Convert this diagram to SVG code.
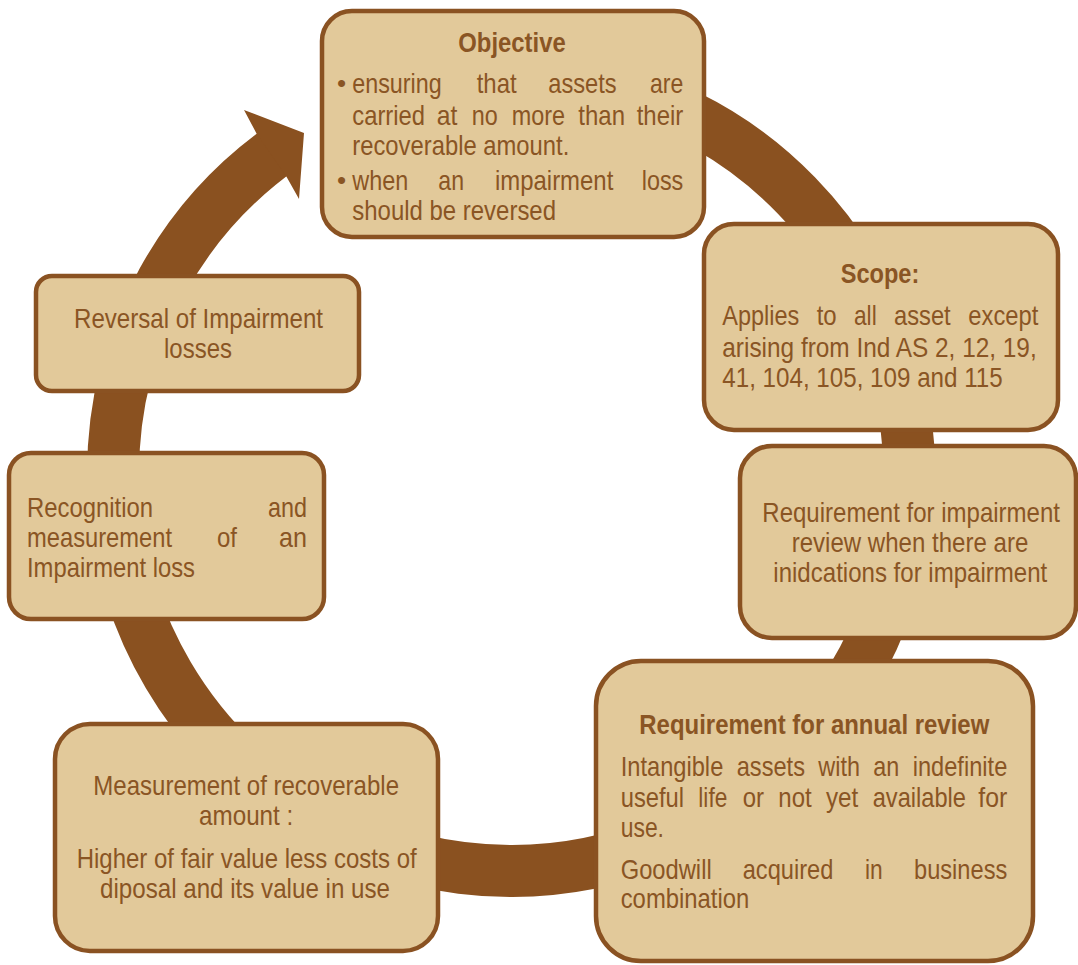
<svg xmlns="http://www.w3.org/2000/svg" width="1078" height="965" viewBox="0 0 1078 965">
<style>
.box{fill:#E2C99A;stroke:#8A5222;stroke-width:4.5}
.t{font-family:"Liberation Sans Narrow","Liberation Sans",Arial,sans-serif;font-size:28px;fill:#8A5524}
.b{font-weight:bold}
.bul{font-family:"Liberation Sans",Arial,sans-serif;font-size:26px;fill:#8A5524}
</style>
<rect width="1078" height="965" fill="#ffffff"/>
<g id="connectors">
<path d="M 441.9 81 A 398 398 0 1 1 282.7 147.0" fill="none" stroke="#8A5120" stroke-width="52"/>
<polygon points="256.5,133.5 244,110 304,133 299,199 286.5,176.8" fill="#8A5120"/>
</g>
<g id="objective">
<rect class="box" x="322" y="11" width="382" height="226" rx="30"/>
<text class="t b" x="458.3" y="51.7" textLength="107.4" lengthAdjust="spacingAndGlyphs">Objective</text>
<text class="bul" x="337" y="92">•</text>
<text class="bul" x="337" y="189">•</text>
<text class="t" x="352.3" y="93.3" textLength="89.4" lengthAdjust="spacingAndGlyphs">ensuring</text>
<text class="t" x="476.7" y="93.3" textLength="40" lengthAdjust="spacingAndGlyphs">that</text>
<text class="t" x="548.3" y="93.3" textLength="68.4" lengthAdjust="spacingAndGlyphs">assets</text>
<text class="t" x="650" y="93.3" textLength="33.3" lengthAdjust="spacingAndGlyphs">are</text>
<text class="t" x="352.3" y="125" textLength="72.7" lengthAdjust="spacingAndGlyphs">carried</text>
<text class="t" x="436.7" y="125" textLength="20.6" lengthAdjust="spacingAndGlyphs">at</text>
<text class="t" x="471.7" y="125" textLength="26" lengthAdjust="spacingAndGlyphs">no</text>
<text class="t" x="511.7" y="125" textLength="53.3" lengthAdjust="spacingAndGlyphs">more</text>
<text class="t" x="578.3" y="125" textLength="46.7" lengthAdjust="spacingAndGlyphs">than</text>
<text class="t" x="636.7" y="125" textLength="46.6" lengthAdjust="spacingAndGlyphs">their</text>
<text class="t" x="352.3" y="155" textLength="217" lengthAdjust="spacingAndGlyphs">recoverable amount.</text>
<text class="t" x="352.3" y="190" textLength="56" lengthAdjust="spacingAndGlyphs">when</text>
<text class="t" x="438.3" y="190" textLength="25.7" lengthAdjust="spacingAndGlyphs">an</text>
<text class="t" x="495" y="190" textLength="118.3" lengthAdjust="spacingAndGlyphs">impairment</text>
<text class="t" x="641.7" y="190" textLength="41.6" lengthAdjust="spacingAndGlyphs">loss</text>
<text class="t" x="352.3" y="220" textLength="203.7" lengthAdjust="spacingAndGlyphs">should be reversed</text>
</g>
<g id="scope">
<rect class="box" x="704" y="224" width="354" height="206" rx="30"/>
<text class="t b" x="840.7" y="283.3" textLength="78.6" lengthAdjust="spacingAndGlyphs">Scope:</text>
<text class="t" x="722.3" y="325" textLength="77" lengthAdjust="spacingAndGlyphs">Applies</text>
<text class="t" x="816.7" y="325" textLength="20" lengthAdjust="spacingAndGlyphs">to</text>
<text class="t" x="854" y="325" textLength="22.7" lengthAdjust="spacingAndGlyphs">all</text>
<text class="t" x="894" y="325" textLength="56.7" lengthAdjust="spacingAndGlyphs">asset</text>
<text class="t" x="968.3" y="325" textLength="70" lengthAdjust="spacingAndGlyphs">except</text>
<text class="t" x="722.3" y="356.7" textLength="314.4" lengthAdjust="spacingAndGlyphs">arising from Ind AS 2, 12, 19,</text>
<text class="t" x="722.3" y="386.7" textLength="280.4" lengthAdjust="spacingAndGlyphs">41, 104, 105, 109 and 115</text>
</g>
<g id="impairment-review">
<rect class="box" x="740" y="446" width="336" height="192" rx="32"/>
<text class="t" x="762.3" y="521.7" textLength="297.7" lengthAdjust="spacingAndGlyphs">Requirement for impairment</text>
<text class="t" x="791.7" y="551.7" textLength="236.6" lengthAdjust="spacingAndGlyphs">review when there are</text>
<text class="t" x="773.3" y="581.7" textLength="274" lengthAdjust="spacingAndGlyphs">inidcations for impairment</text>
</g>
<g id="annual-review">
<rect class="box" x="596" y="661" width="437" height="300" rx="45"/>
<text class="t b" x="639.3" y="734.3" textLength="350" lengthAdjust="spacingAndGlyphs">Requirement for annual review</text>
<text class="t" x="620.7" y="775.7" textLength="102.6" lengthAdjust="spacingAndGlyphs">Intangible</text>
<text class="t" x="736.7" y="775.7" textLength="68.3" lengthAdjust="spacingAndGlyphs">assets</text>
<text class="t" x="818.3" y="775.7" textLength="41.7" lengthAdjust="spacingAndGlyphs">with</text>
<text class="t" x="873.3" y="775.7" textLength="26" lengthAdjust="spacingAndGlyphs">an</text>
<text class="t" x="912.7" y="775.7" textLength="94.6" lengthAdjust="spacingAndGlyphs">indefinite</text>
<text class="t" x="620.7" y="806.7" textLength="63.3" lengthAdjust="spacingAndGlyphs">useful</text>
<text class="t" x="698.3" y="806.7" textLength="29" lengthAdjust="spacingAndGlyphs">life</text>
<text class="t" x="742.7" y="806.7" textLength="21.3" lengthAdjust="spacingAndGlyphs">or</text>
<text class="t" x="778.3" y="806.7" textLength="33.4" lengthAdjust="spacingAndGlyphs">not</text>
<text class="t" x="826" y="806.7" textLength="32.3" lengthAdjust="spacingAndGlyphs">yet</text>
<text class="t" x="872.7" y="806.7" textLength="93.3" lengthAdjust="spacingAndGlyphs">available</text>
<text class="t" x="978.3" y="806.7" textLength="29" lengthAdjust="spacingAndGlyphs">for</text>
<text class="t" x="620.7" y="836.7" textLength="43.3" lengthAdjust="spacingAndGlyphs">use.</text>
<text class="t" x="620.7" y="879" textLength="91" lengthAdjust="spacingAndGlyphs">Goodwill</text>
<text class="t" x="742.7" y="879" textLength="90.6" lengthAdjust="spacingAndGlyphs">acquired</text>
<text class="t" x="865" y="879" textLength="17.7" lengthAdjust="spacingAndGlyphs">in</text>
<text class="t" x="914" y="879" textLength="93.3" lengthAdjust="spacingAndGlyphs">business</text>
<text class="t" x="620.7" y="908.3" textLength="128.6" lengthAdjust="spacingAndGlyphs">combination</text>
</g>
<g id="measurement">
<rect class="box" x="55" y="724" width="383" height="227" rx="35"/>
<text class="t" x="93.3" y="795" textLength="305.7" lengthAdjust="spacingAndGlyphs">Measurement of recoverable</text>
<text class="t" x="199" y="825" textLength="94.3" lengthAdjust="spacingAndGlyphs">amount :</text>
<text class="t" x="76.7" y="867.7" textLength="340" lengthAdjust="spacingAndGlyphs">Higher of fair value less costs of</text>
<text class="t" x="100" y="897.7" textLength="290" lengthAdjust="spacingAndGlyphs">diposal and its value in use</text>
</g>
<g id="recognition">
<rect class="box" x="9" y="453" width="315" height="166" rx="22"/>
<text class="t" x="27" y="517" textLength="126" lengthAdjust="spacingAndGlyphs">Recognition</text>
<text class="t" x="268" y="517" textLength="39" lengthAdjust="spacingAndGlyphs">and</text>
<text class="t" x="27" y="547" textLength="145" lengthAdjust="spacingAndGlyphs">measurement</text>
<text class="t" x="217" y="547" textLength="20" lengthAdjust="spacingAndGlyphs">of</text>
<text class="t" x="279" y="547" textLength="28" lengthAdjust="spacingAndGlyphs">an</text>
<text class="t" x="27" y="577" textLength="168" lengthAdjust="spacingAndGlyphs">Impairment loss</text>
</g>
<g id="reversal">
<rect class="box" x="36" y="276" width="323" height="115" rx="16"/>
<text class="t" x="74" y="328" textLength="249" lengthAdjust="spacingAndGlyphs">Reversal of Impairment</text>
<text class="t" x="164" y="358" textLength="68" lengthAdjust="spacingAndGlyphs">losses</text>
</g>
</svg>
